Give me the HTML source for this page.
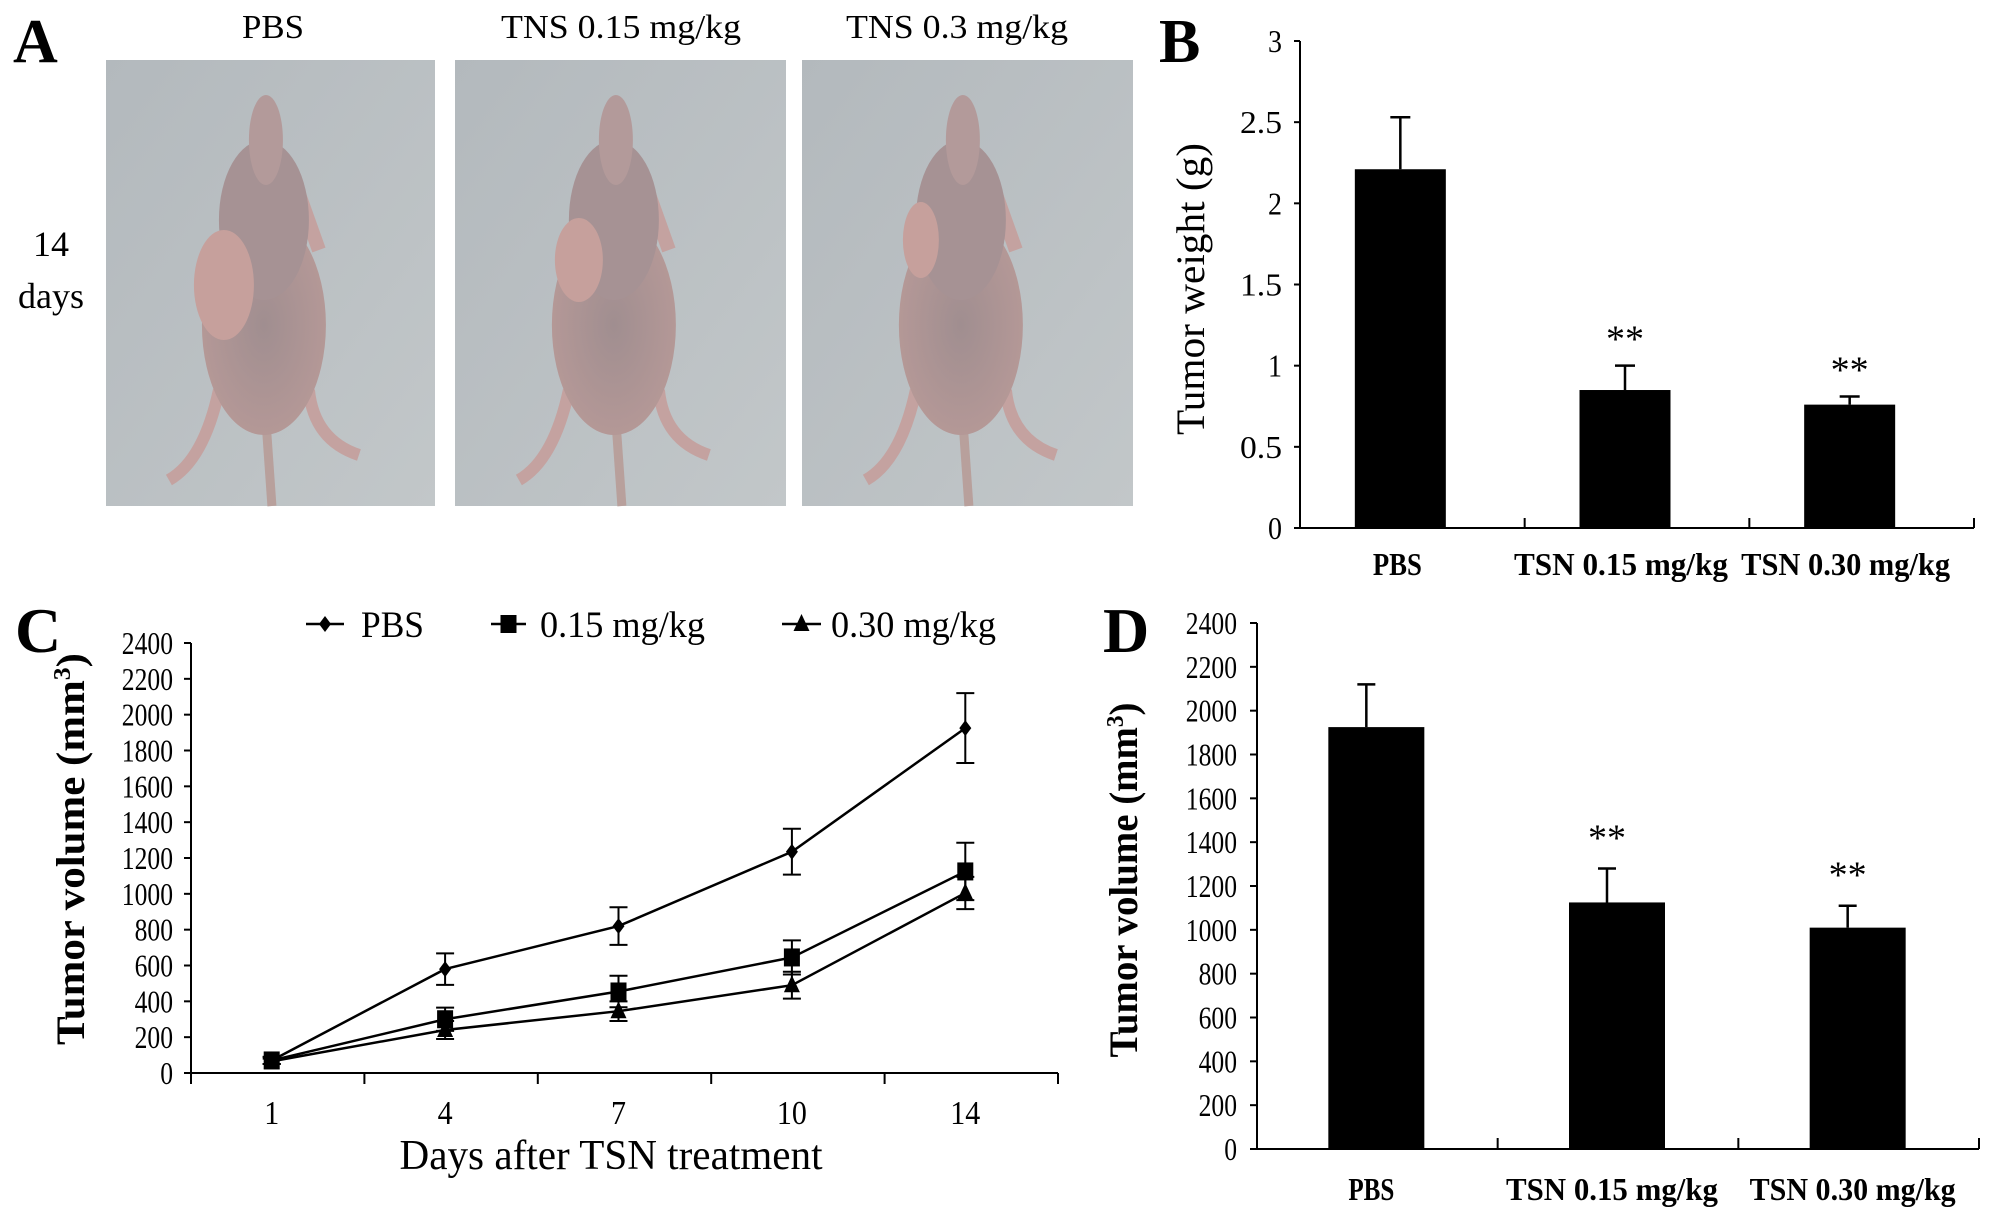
<!DOCTYPE html>
<html><head><meta charset="utf-8">
<style>
html,body{margin:0;padding:0;background:#fff;}
svg{display:block;}
text{font-family:"Liberation Serif",serif;fill:#000;}
</style></head>
<body>
<svg id="fig" width="2008" height="1217" viewBox="0 0 2008 1217" xmlns="http://www.w3.org/2000/svg">
  <defs>
    <linearGradient id="bg" x1="0" y1="0" x2="1" y2="1">
      <stop offset="0" stop-color="#b3b9bd"/><stop offset="1" stop-color="#c2c7c9"/>
    </linearGradient>
    <radialGradient id="skin" cx="0.5" cy="0.5" r="0.6">
      <stop offset="0" stop-color="#a08e90"/><stop offset="1" stop-color="#b89a98"/>
    </radialGradient>
  </defs>
  <g>
    <text x="13" y="62" font-size="62" font-weight="bold">A</text>
    <text x="273" y="38" font-size="34" text-anchor="middle" textLength="62" lengthAdjust="spacingAndGlyphs">PBS</text>
    <text x="621" y="38" font-size="34" text-anchor="middle" textLength="240" lengthAdjust="spacingAndGlyphs">TNS 0.15 mg/kg</text>
    <text x="957" y="38" font-size="34" text-anchor="middle" textLength="222" lengthAdjust="spacingAndGlyphs">TNS 0.3 mg/kg</text>
    <text x="51" y="256" font-size="36" text-anchor="middle">14</text>
    <text x="51" y="308" font-size="36" text-anchor="middle" textLength="66" lengthAdjust="spacingAndGlyphs">days</text>
    <g id="photos"></g>
  </g>
  <g id="panelB"></g>
  <g id="panelC"></g>
  <g id="panelD"></g>
</svg>
<script>
// ---------- Data ----------
const weightCategories = ["PBS", "TSN 0.15 mg/kg", "TSN 0.30 mg/kg"];
const weightValues = [2.21, 0.85, 0.76];
const weightErrors = [0.32, 0.15, 0.05];
const weightTicks = ["0", "0.5", "1", "1.5", "2", "2.5", "3"];
const weightTickValues = [0, 0.5, 1, 1.5, 2, 2.5, 3];
const weightStars = ["", "**", "**"];

const dayCategories = ["1", "4", "7", "10", "14"];
const pbsValues = [70, 580, 820, 1235, 1925];
const pbsErrors = [20, 88, 105, 128, 195];
const lowValues = [70, 300, 455, 645, 1125];
const lowErrors = [20, 65, 88, 95, 160];
const highValues = [65, 240, 345, 490, 1005];
const highErrors = [15, 50, 55, 75, 90];
const volumeTicks = ["0","200","400","600","800","1000","1200","1400","1600","1800","2000","2200","2400"];
const volumeTickValues = [0,200,400,600,800,1000,1200,1400,1600,1800,2000,2200,2400];

const volCategories = ["PBS", "TSN 0.15 mg/kg", "TSN 0.30 mg/kg"];
const volValues = [1925, 1125, 1010];
const volErrors = [195, 155, 100];
const volStars = ["", "**", "**"];

const NS = "http://www.w3.org/2000/svg";
function mk(parent, tag, attrs, txt){
  const e = document.createElementNS(NS, tag);
  for (const k in attrs) e.setAttribute(k, attrs[k]);
  if (txt !== undefined) e.textContent = txt;
  parent.appendChild(e);
  return e;
}

// ---------- Photos (Panel A) ----------
(function(){
  const g = document.getElementById('photos');
  const rects = [[106,60,329,446],[455,60,331,446],[802,60,331,446]];
  rects.forEach((r,i)=>{
    const pg = mk(g,'g',{});
    
    
    mk(pg,'rect',{x:r[0],y:r[1],width:r[2],height:r[3],fill:'url(#bg)'});
    const cx = r[0] + r[2]*0.48, top = r[1];
    // legs
    mk(pg,'path',{d:`M${cx-45} ${top+330} Q${cx-60} ${top+400} ${cx-95} ${top+420}`,stroke:'#c4a2a0','stroke-width':12,fill:'none'});
    mk(pg,'path',{d:`M${cx+45} ${top+330} Q${cx+50} ${top+380} ${cx+95} ${top+395}`,stroke:'#c4a2a0','stroke-width':12,fill:'none'});
    mk(pg,'path',{d:`M${cx+2} ${top+360} L${cx+8} ${top+446}`,stroke:'#b8a09c','stroke-width':9,fill:'none'});
    mk(pg,'path',{d:`M${cx+30} ${top+120} L${cx+55} ${top+190}`,stroke:'#c4a2a0','stroke-width':14,fill:'none'});
    // body
    mk(pg,'ellipse',{cx:cx,cy:top+265,rx:62,ry:110,fill:'url(#skin)'});
    mk(pg,'ellipse',{cx:cx,cy:top+160,rx:45,ry:80,fill:'#a69294'});
    mk(pg,'ellipse',{cx:cx+2,cy:top+80,rx:17,ry:45,fill:'#b39a9a'});
    // tumor
    if (i===0) mk(pg,'ellipse',{cx:cx-40,cy:top+225,rx:30,ry:55,fill:'#c6a09c'});
    if (i===1) mk(pg,'ellipse',{cx:cx-35,cy:top+200,rx:24,ry:42,fill:'#c6a09c'});
    if (i===2) mk(pg,'ellipse',{cx:cx-40,cy:top+180,rx:18,ry:38,fill:'#c6a09c'});
  });
})();

// ---------- Panel B ----------
(function(){
  const g = document.getElementById('panelB');
  const x0 = 1300, x1 = 1974, yBase = 528, yTop = 41, vmax = 3;
  const y = v => yBase - (v / vmax) * (yBase - yTop);
  const band = (x1 - x0) / weightCategories.length;
  const xc = i => x0 + band * (i + 0.5) - 12;
  const barW = 91;
  let t = mk(g,'text',{x:1159,y:62,'font-size':62,'font-weight':'bold'},'B');
  
  
  let ax = mk(g,'path',{d:`M${x0} ${yTop} V${yBase} H${x1}`,stroke:'#000','stroke-width':2,fill:'none'});
  
  
  weightTickValues.forEach((v,i)=>{
    mk(g,'line',{x1:x0-6,x2:x0,y1:y(v),y2:y(v),stroke:'#000','stroke-width':2});
    const lab = mk(g,'text',{x:x0-18,y:y(v)+11,'font-size':32,'text-anchor':'end',textLength:weightTicks[i].length*14,lengthAdjust:'spacingAndGlyphs'},weightTicks[i]);
    
    
  });
  for (let i=1;i<=weightCategories.length;i++){
    mk(g,'line',{x1:x0+band*i,x2:x0+band*i,y1:yBase,y2:yBase-10,stroke:'#000','stroke-width':2});
  }
  const labW = [49, 214, 209];
  weightCategories.forEach((c,i)=>{
    const b = mk(g,'rect',{x:xc(i)-barW/2,y:y(weightValues[i]),width:barW,height:yBase-y(weightValues[i]),fill:'#000'});
    
    
    const et = y(weightValues[i] + weightErrors[i]);
    const eb = mk(g,'path',{d:`M${xc(i)} ${y(weightValues[i])} V${et} M${xc(i)-10} ${et} H${xc(i)+10}`,stroke:'#000','stroke-width':2.5,fill:'none'});
    
    
    const lab = mk(g,'text',{x:xc(i)+(i===0?-3:-4),y:575,'font-size':32,'text-anchor':'middle',textLength:labW[i],lengthAdjust:'spacingAndGlyphs','font-weight':'bold'},c);
    
    
    if (weightStars[i]){
      const s = mk(g,'text',{x:xc(i),y:et-14,'font-size':38,'text-anchor':'middle'},weightStars[i]);
      
      
    }
  });
  const yt = mk(g,'text',{x:0,y:0,'font-size':40,'text-anchor':'middle',transform:`translate(1204,289) rotate(-90)`,textLength:292,lengthAdjust:'spacingAndGlyphs'},'Tumor weight (g)');
  
  
})();

// ---------- Panel C ----------
(function(){
  const g = document.getElementById('panelC');
  const x0 = 191, x1 = 1058, yBase = 1073, yTop = 643, vmax = 2400;
  const y = v => yBase - (v / vmax) * (yBase - yTop);
  const band = (x1 - x0) / dayCategories.length;
  const xc = i => x0 + band * (i + 0.5) - 6;
  let t = mk(g,'text',{x:15,y:652,'font-size':64,'font-weight':'bold'},'C');
  
  
  const ax = mk(g,'path',{d:`M${x0} ${yTop} V${yBase} H${x1}`,stroke:'#000','stroke-width':2,fill:'none'});
  
  
  volumeTickValues.forEach((v,i)=>{
    mk(g,'line',{x1:x0-7,x2:x0,y1:y(v),y2:y(v),stroke:'#000','stroke-width':2});
    const lab = mk(g,'text',{x:x0-18,y:y(v)+11,'font-size':32,'text-anchor':'end',textLength:volumeTicks[i].length*12.8,lengthAdjust:'spacingAndGlyphs'},volumeTicks[i]);
    
    
  });
  for (let i=0;i<=dayCategories.length;i++){
    mk(g,'line',{x1:x0+band*i,x2:x0+band*i,y1:yBase,y2:yBase+11,stroke:'#000','stroke-width':2});
  }
  dayCategories.forEach((c,i)=>{
    const lab = mk(g,'text',{x:xc(i),y:1124,'font-size':34,'text-anchor':'middle',textLength:c.length*15,lengthAdjust:'spacingAndGlyphs'},c);
    
    
  });
  const series = [
    {name:'pbs', vals:pbsValues, errs:pbsErrors, m:'diamond'},
    {name:'low-dose', vals:lowValues, errs:lowErrors, m:'square'},
    {name:'high-dose', vals:highValues, errs:highErrors, m:'triangle'}
  ];
  function marker(parent, m, cx, cy){
    if (m==='diamond') return mk(parent,'path',{d:`M${cx} ${cy-8} L${cx+6} ${cy} L${cx} ${cy+8} L${cx-6} ${cy} Z`,fill:'#000'});
    if (m==='square') return mk(parent,'rect',{x:cx-8,y:cy-9,width:16,height:18,fill:'#000'});
    return mk(parent,'path',{d:`M${cx} ${cy-10} L${cx+8} ${cy+7} L${cx-8} ${cy+7} Z`,fill:'#000'});
  }
  series.forEach(s=>{
    const sg = mk(g,'g',{});
    
    
    const d = s.vals.map((v,i)=>(i?'L':'M')+xc(i)+' '+y(v)).join(' ');
    const ln = mk(sg,'path',{d:d,stroke:'#000','stroke-width':2.5,fill:'none'});
    
    
    s.vals.forEach((v,i)=>{
      const x = xc(i), a = y(v + s.errs[i]), b = y(v - s.errs[i]);
      const e = mk(sg,'path',{d:`M${x} ${a} V${b} M${x-9} ${a} H${x+9} M${x-9} ${b} H${x+9}`,stroke:'#000','stroke-width':2,fill:'none'});
      
      
      const mkr = marker(sg, s.m, x, y(v));
      
      
    });
  });
  const legend = [
    {label:'PBS', lx1:306, lx2:344, tx:361, tw:63, m:'diamond'},
    {label:'0.15 mg/kg', lx1:491, lx2:526, tx:540, tw:165, m:'square'},
    {label:'0.30 mg/kg', lx1:782, lx2:821, tx:831, tw:165, m:'triangle'}
  ];
  legend.forEach(l=>{
    const lg = mk(g,'g',{});
    
    
    mk(lg,'line',{x1:l.lx1,x2:l.lx2,y1:624,y2:624,stroke:'#000','stroke-width':2.5});
    marker(lg, l.m, (l.lx1+l.lx2)/2, 624);
    mk(lg,'text',{x:l.tx,y:637,'font-size':37,textLength:l.tw,lengthAdjust:'spacingAndGlyphs'},l.label);
  });
  const xt = mk(g,'text',{x:611,y:1169,'font-size':42,'text-anchor':'middle',textLength:423,lengthAdjust:'spacingAndGlyphs'},'Days after TSN treatment');
  
  
  const yt = mk(g,'text',{x:0,y:0,'font-size':40,'font-weight':'bold','text-anchor':'middle',transform:'translate(84,849) rotate(-90)',textLength:392,lengthAdjust:'spacingAndGlyphs'});
  yt.appendChild(document.createTextNode('Tumor volume (mm'));
  mk(yt,'tspan',{'font-size':24,dy:-14},'3');
  mk(yt,'tspan',{dy:14},')');
  
  
})();

// ---------- Panel D ----------
(function(){
  const g = document.getElementById('panelD');
  const x0 = 1257, x1 = 1979, yBase = 1149, yTop = 623, vmax = 2400;
  const y = v => yBase - (v / vmax) * (yBase - yTop);
  const band = (x1 - x0) / volCategories.length;
  const xc = i => x0 + band * (i + 0.5) - 1;
  const barW = 96;
  let t = mk(g,'text',{x:1103,y:652,'font-size':64,'font-weight':'bold'},'D');
  
  
  const ax = mk(g,'path',{d:`M${x0} ${yTop} V${yBase} H${x1}`,stroke:'#000','stroke-width':2,fill:'none'});
  
  
  volumeTickValues.forEach((v,i)=>{
    mk(g,'line',{x1:x0-7,x2:x0,y1:y(v),y2:y(v),stroke:'#000','stroke-width':2});
    const lab = mk(g,'text',{x:x0-20,y:y(v)+11,'font-size':32,'text-anchor':'end',textLength:volumeTicks[i].length*12.8,lengthAdjust:'spacingAndGlyphs'},volumeTicks[i]);
    
    
  });
  for (let i=1;i<=volCategories.length;i++){
    mk(g,'line',{x1:x0+band*i,x2:x0+band*i,y1:yBase,y2:yBase-11,stroke:'#000','stroke-width':2});
  }
  const labW = [46, 212, 206];
  volCategories.forEach((c,i)=>{
    const b = mk(g,'rect',{x:xc(i)-barW/2,y:y(volValues[i]),width:barW,height:yBase-y(volValues[i]),fill:'#000'});
    
    
    const ex = xc(i) - 10;
    const et = y(volValues[i] + volErrors[i]);
    const eb = mk(g,'path',{d:`M${ex} ${y(volValues[i])} V${et} M${ex-9} ${et} H${ex+9}`,stroke:'#000','stroke-width':2.5,fill:'none'});
    
    
    const lab = mk(g,'text',{x:xc(i)-5,y:1200,'font-size':32,'text-anchor':'middle',textLength:labW[i],lengthAdjust:'spacingAndGlyphs','font-weight':'bold'},c);
    
    
    if (volStars[i]){
      const s = mk(g,'text',{x:ex,y:et-18,'font-size':38,'text-anchor':'middle'},volStars[i]);
      
      
    }
  });
  const yt = mk(g,'text',{x:0,y:0,'font-size':40,'font-weight':'bold','text-anchor':'middle',transform:'translate(1137,880) rotate(-90)',textLength:355,lengthAdjust:'spacingAndGlyphs'});
  yt.appendChild(document.createTextNode('Tumor volume (mm'));
  mk(yt,'tspan',{'font-size':24,dy:-14},'3');
  mk(yt,'tspan',{dy:14},')');
  
  
})();
</script>
</body></html>
